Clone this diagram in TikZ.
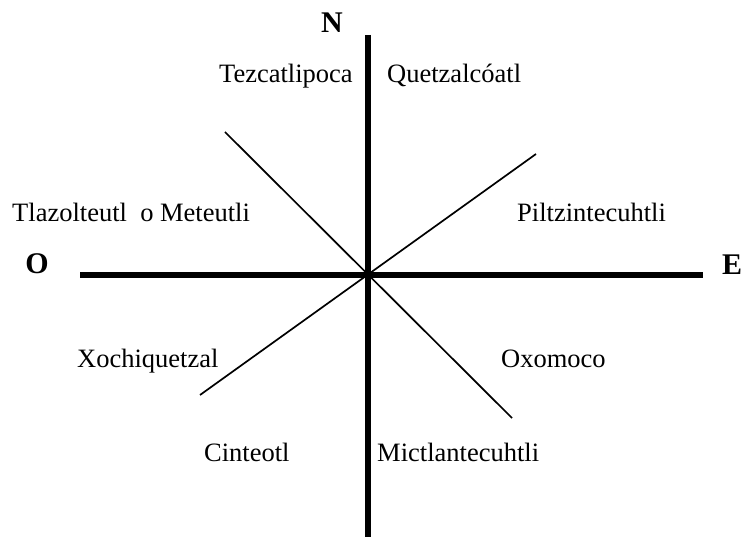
\documentclass[tikz,border=0pt]{standalone}
\usepackage{fontspec}
\setmainfont{Liberation Serif}
\begin{document}
\begin{tikzpicture}[x=1pt,y=-1pt,
  axis/.style={line width=5.5pt},
  diag/.style={line width=1.7pt},
  god/.style={anchor=base west,inner sep=0pt,font=\fontsize{26.5}{30}\selectfont},
  cardinal/.style={anchor=base,inner sep=0pt,font=\fontsize{30}{34}\selectfont\bfseries}]
\useasboundingbox (0,0) rectangle (745,537);
% ends of the axes and the diagonals
\coordinate (n) at (368,35);
\coordinate (s) at (368,537);
\coordinate (w) at (80,275);
\coordinate (e) at (703,275);
\coordinate (nw) at (225,132);
\coordinate (se) at (512,418);
\coordinate (sw) at (200,395);
\coordinate (ne) at (536,154);
% axes and diagonals
\draw[axis] (n) -- (s);
\draw[axis] (w) -- (e);
\draw[diag] (nw) -- (se);
\draw[diag] (sw) -- (ne);
% cardinal points
\node[cardinal] (lN) at (332,33) {N};
\node[cardinal] (lO) at (37,274) {O};
\node[cardinal] (lE) at (732,275) {E};
% gods of each region
\node[god] (tez) at (219,83) {Tezcatlipoca};
\node[god] (que) at (387,83) {Quetzalcóatl};
\node[god] (tla) at (12,222) {Tlazolteutl\ \ o Meteutli};
\node[god] (pil) at (517,222) {Piltzintecuhtli};
\node[god] (xoc) at (77,368) {Xochiquetzal};
\node[god] (oxo) at (501,368) {Oxomoco};
\node[god] (cin) at (204,462) {Cinteotl};
\node[god] (mic) at (377,461) {Mictlantecuhtli};
\end{tikzpicture}
\end{document}
